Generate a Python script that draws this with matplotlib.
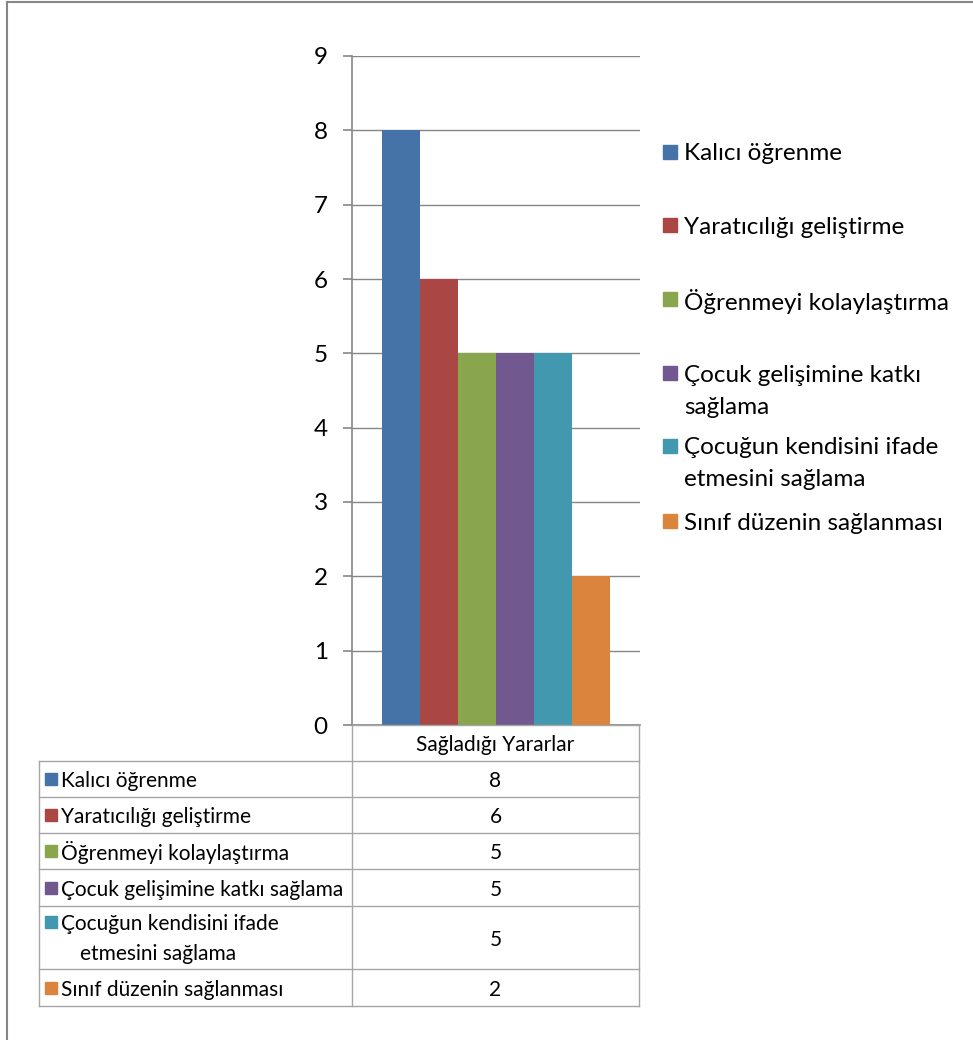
import matplotlib.pyplot as plt
from matplotlib.patches import Rectangle
from matplotlib.lines import Line2D
import numpy as np

plt.rcParams['font.family'] = ['Lato', 'DejaVu Sans']

category = 'Sağladığı Yararlar'
series = ['Kalıcı öğrenme', 'Yaratıcılığı geliştirme', 'Öğrenmeyi kolaylaştırma',
          'Çocuk gelişimine katkı sağlama', 'Çocuğun kendisini ifade etmesini sağlama',
          'Sınıf düzenin sağlanması']
values = [8, 6, 5, 5, 5, 2]
legend_labels = ['Kalıcı öğrenme', 'Yaratıcılığı geliştirme', 'Öğrenmeyi kolaylaştırma',
                 'Çocuk gelişimine katkı\nsağlama', 'Çocuğun kendisini ifade\netmesini sağlama',
                 'Sınıf düzenin sağlanması']
table_labels = ['Kalıcı öğrenme', 'Yaratıcılığı geliştirme', 'Öğrenmeyi kolaylaştırma',
                'Çocuk gelişimine katkı sağlama', 'Çocuğun kendisini ifade\netmesini sağlama',
                'Sınıf düzenin sağlanması']
colors = ['#4572A7', '#AA4643', '#89A54E', '#71588F', '#4198AF', '#DB843D']
yticks = np.arange(0, 10)

W, H = 973, 1040
gray = '#868686'
fig = plt.figure(figsize=(W / 100, H / 100), dpi=100)


def fx(x):
    return x / W


def fy(y):
    return 1 - y / H


def hline(x0, x1, y, c='#A6A6A6', lw=1.0):
    fig.add_artist(Line2D([fx(x0), fx(x1)], [fy(y), fy(y)], color=c, lw=lw))


def vline(x, y0, y1, c='#A6A6A6', lw=1.0):
    fig.add_artist(Line2D([fx(x), fx(x)], [fy(y0), fy(y1)], color=c, lw=lw))


def square(x, yc, size, c):
    fig.add_artist(Rectangle((fx(x), fy(yc + size / 2)), size / W, size / H,
                             color=c, transform=fig.transFigure))


# outer border
hline(7, 973, 2, c=gray, lw=1.5)
vline(7, 2, 1040, c=gray, lw=1.5)

ax = fig.add_axes([fx(352), fy(725), fx(640) - fx(352), fy(56) - fy(725)])
width = 38 / 288
start = -0.5 + 30 / 288
for i, (name, v) in enumerate(zip(series, values)):
    ax.bar(start + width * (i + 0.5), v, width, color=colors[i], label=name, zorder=3)

ax.set_xlim(-0.5, 0.5)
ax.set_ylim(0, 9)
ax.set_yticks(yticks)
ax.set_xticks([])
ax.grid(axis='y', color=gray, lw=1.0, zorder=0)
for s in ['top', 'right']:
    ax.spines[s].set_visible(False)
ax.spines['left'].set_color(gray)
ax.spines['bottom'].set_color(gray)
ax.spines['left'].set_linewidth(1.2)
ax.spines['bottom'].set_linewidth(1.2)
ax.tick_params(axis='y', length=6.5, color=gray, width=1.2, pad=11, labelsize=17.5)

# legend (Excel-style irregular spacing)
leg_y = [152, 225, 299, 373, 446, 521]
for i, lab in enumerate(legend_labels):
    square(663, leg_y[i], 14, colors[i])
    lines = lab.split('\n')
    for j, ln in enumerate(lines):
        fig.text(fx(684), fy(leg_y[i] + 32 * j), ln, fontsize=17.5, va='center_baseline',
                 ha='left')

# data table
row_lines = [761, 797, 833, 869, 906, 969, 1006]
vline(352, 725, 1006)
vline(639, 725, 1006)
vline(39, 761, 1006)
hline(352, 639, 725)
for y in row_lines:
    hline(39, 639, y)
fig.text(fx(495.5), fy(743), category, fontsize=15, ha='center', va='center_baseline')
for i in range(len(values)):
    yc = (row_lines[i] + row_lines[i + 1]) / 2
    fig.text(fx(495.5), fy(yc), str(values[i]), fontsize=15, ha='center',
             va='center_baseline')
    lines = table_labels[i].split('\n')
    if len(lines) == 1:
        square(45, yc, 12, colors[i])
        fig.text(fx(61), fy(yc), lines[0], fontsize=15, ha='left', va='center_baseline')
    else:
        y0 = yc - 16
        square(45, y0, 12, colors[i])
        fig.text(fx(61), fy(y0), lines[0], fontsize=15, ha='left', va='center_baseline')
        fig.text(fx(80), fy(y0 + 31), lines[1], fontsize=15, ha='left',
                 va='center_baseline')

fig.savefig('out.png', dpi=100)
